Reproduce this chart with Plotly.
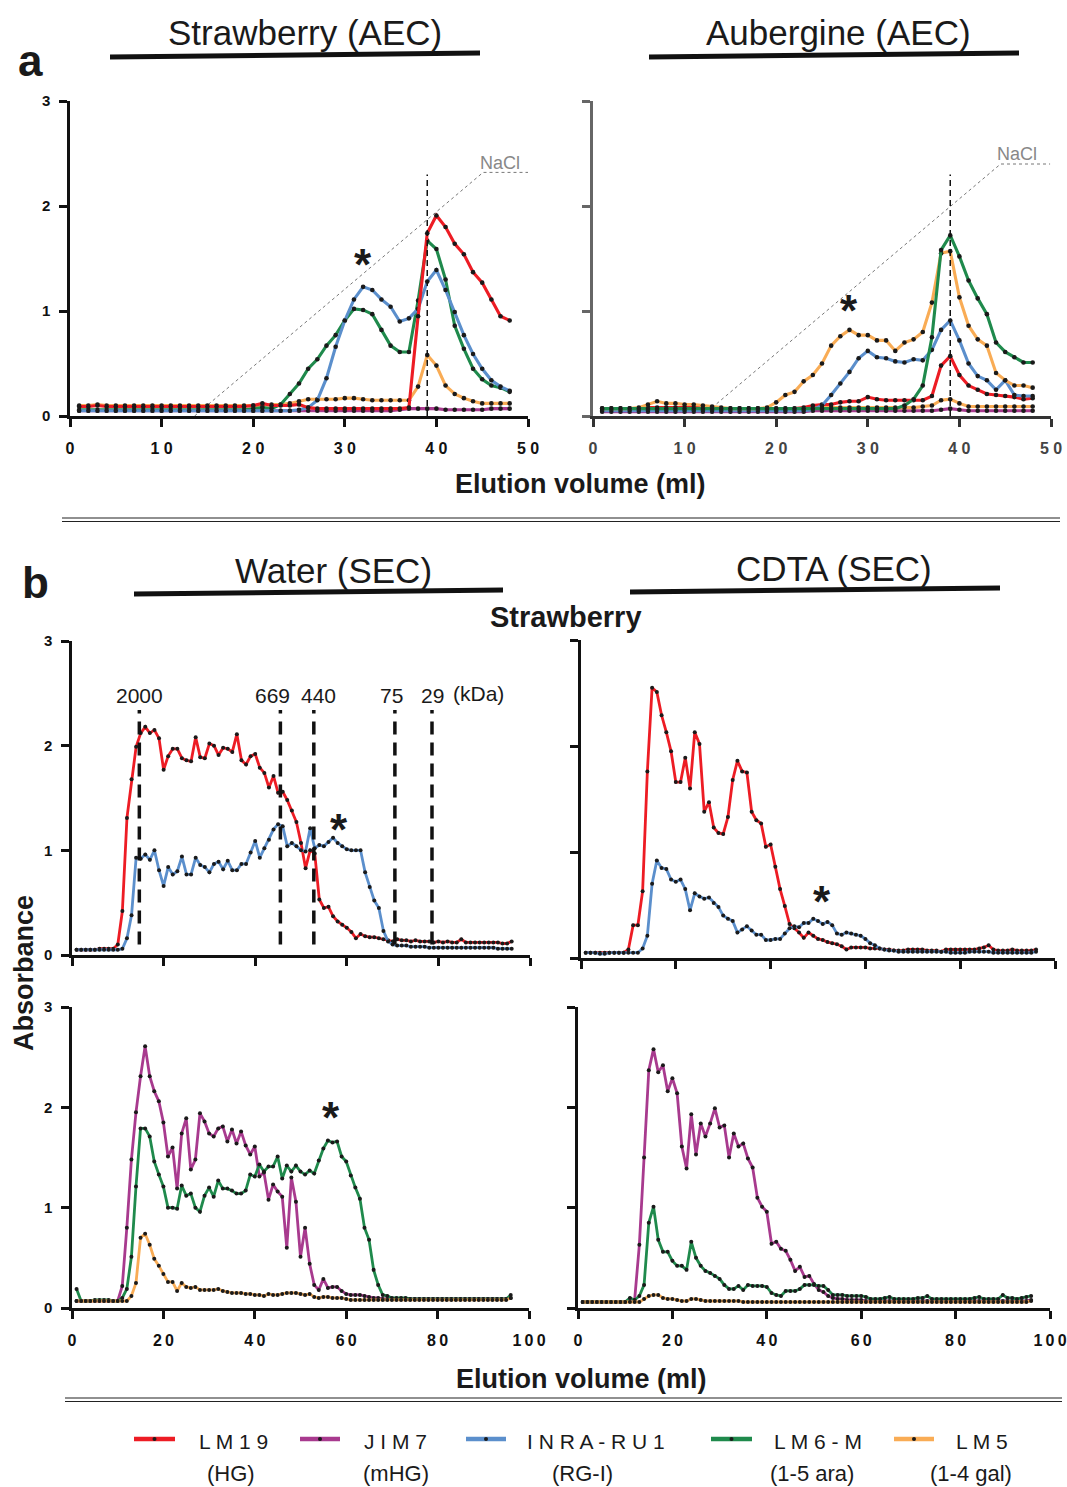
import plotly.graph_objects as go

# Full-window figure; the page's body margin is removed by a post script.
W, H = 1067, 1487
def px(x): return x / W
def py(y): return 1 - y / H

# ---------------- data: panel a (AEC, fractions 1..48) ----------------
a_x = list(range(1, 49))

sa_lm19 = [0.09,0.09,0.10,0.09,0.09,0.09,0.09,0.09,0.09,0.09,
           0.09,0.09,0.09,0.09,0.09,0.09,0.09,0.09,0.09,0.10,
           0.12,0.10,0.10,0.10,0.11,0.08,0.07,0.07,0.07,0.07,
           0.07,0.07,0.07,0.07,0.07,0.07,0.08,0.95,1.74,1.91,
           1.80,1.64,1.54,1.37,1.27,1.11,0.95,0.91]
sa_jim7 = [0.05,0.05,0.05,0.05,0.05,0.05,0.05,0.05,0.05,0.05,
           0.05,0.05,0.05,0.05,0.05,0.05,0.05,0.05,0.05,0.05,
           0.05,0.05,0.05,0.05,0.05,0.05,0.05,0.05,0.05,0.05,
           0.05,0.05,0.05,0.05,0.05,0.06,0.07,0.07,0.07,0.07,
           0.06,0.06,0.06,0.06,0.06,0.07,0.07,0.07]
sa_inra = [0.05,0.05,0.05,0.05,0.05,0.05,0.05,0.05,0.05,0.05,
           0.05,0.05,0.05,0.05,0.05,0.05,0.05,0.05,0.05,0.05,
           0.05,0.05,0.05,0.05,0.06,0.08,0.15,0.36,0.66,0.91,
           1.11,1.23,1.20,1.11,1.04,0.90,0.93,1.02,1.28,1.39,
           1.20,0.99,0.77,0.59,0.45,0.34,0.28,0.24]
sa_lm6 = [0.06,0.06,0.06,0.06,0.06,0.06,0.06,0.06,0.06,0.06,
          0.06,0.06,0.06,0.06,0.06,0.06,0.06,0.06,0.06,0.07,
          0.08,0.07,0.11,0.21,0.31,0.45,0.54,0.67,0.77,0.91,
          1.02,1.01,0.97,0.82,0.67,0.61,0.61,1.10,1.67,1.59,
          1.30,0.86,0.64,0.45,0.35,0.29,0.27,0.23]
sa_lm5 = [0.10,0.10,0.11,0.10,0.10,0.10,0.10,0.10,0.10,0.10,
          0.10,0.10,0.10,0.10,0.10,0.10,0.10,0.10,0.10,0.10,
          0.10,0.11,0.11,0.12,0.14,0.16,0.16,0.16,0.16,0.17,
          0.17,0.16,0.15,0.15,0.15,0.15,0.15,0.28,0.58,0.48,
          0.29,0.21,0.17,0.14,0.12,0.12,0.12,0.12]

au_lm19 = [0.07,0.07,0.07,0.07,0.07,0.08,0.08,0.08,0.08,0.08,
           0.08,0.08,0.07,0.07,0.07,0.07,0.07,0.07,0.07,0.07,
           0.07,0.07,0.08,0.10,0.11,0.11,0.13,0.14,0.14,0.18,
           0.16,0.15,0.15,0.15,0.15,0.15,0.19,0.48,0.57,0.39,
           0.29,0.25,0.21,0.20,0.19,0.18,0.16,0.17]
au_jim7 = [0.04,0.04,0.04,0.04,0.04,0.04,0.04,0.04,0.04,0.04,
           0.04,0.04,0.04,0.04,0.04,0.04,0.04,0.04,0.04,0.04,
           0.04,0.04,0.04,0.05,0.05,0.05,0.05,0.05,0.05,0.05,
           0.05,0.05,0.05,0.05,0.05,0.05,0.05,0.06,0.07,0.06,
           0.05,0.05,0.05,0.05,0.05,0.05,0.05,0.05]
au_inra = [0.05,0.05,0.05,0.05,0.05,0.05,0.05,0.05,0.05,0.05,
           0.05,0.05,0.05,0.05,0.05,0.05,0.05,0.05,0.05,0.05,
           0.05,0.05,0.05,0.06,0.10,0.20,0.31,0.42,0.55,0.62,
           0.56,0.55,0.52,0.51,0.54,0.53,0.63,0.82,0.91,0.72,
           0.50,0.38,0.34,0.25,0.34,0.20,0.19,0.19]
au_lm6 = [0.07,0.07,0.07,0.07,0.07,0.07,0.07,0.07,0.07,0.07,
          0.07,0.07,0.07,0.07,0.07,0.07,0.07,0.07,0.07,0.07,
          0.07,0.07,0.07,0.07,0.07,0.07,0.07,0.07,0.07,0.07,
          0.07,0.07,0.07,0.10,0.16,0.29,0.75,1.58,1.72,1.52,
          1.29,1.12,0.97,0.70,0.61,0.56,0.51,0.51]
au_lm5 = [0.07,0.07,0.07,0.07,0.08,0.11,0.14,0.12,0.12,0.11,
          0.11,0.10,0.09,0.08,0.07,0.07,0.07,0.07,0.08,0.13,
          0.20,0.23,0.33,0.39,0.50,0.67,0.76,0.82,0.77,0.77,
          0.72,0.72,0.62,0.70,0.73,0.80,1.08,1.55,1.57,1.13,
          0.86,0.73,0.67,0.41,0.34,0.29,0.29,0.27]
au_lm5_low = [0.07,0.07,0.07,0.07,0.07,0.07,0.07,0.07,0.07,0.07,
              0.07,0.07,0.07,0.07,0.07,0.07,0.07,0.07,0.07,0.07,
              0.07,0.07,0.07,0.08,0.08,0.08,0.08,0.08,0.08,0.08,
              0.08,0.08,0.08,0.08,0.08,0.09,0.10,0.15,0.16,0.12,
              0.09,0.09,0.09,0.09,0.09,0.09,0.09,0.09]

# NaCl gradient (elution volume, relative level)
nacl_l_x = [13.6, 45.1, 50.6]
nacl_l_y = [0.0, 2.32, 2.32]
nacl_r_x = [13.0, 44.5, 49.9]
nacl_r_y = [0.08, 2.40, 2.40]
aec_peak_x = 39
aec_peak_top = 2.30

# ---------------- data: panel b (SEC, fractions 1..96) ----------------
b_x = list(range(1, 97))

wr_lm19 = [0.05,0.05,0.05,0.05,0.05,0.06,0.06,0.06,0.06,0.10,
           0.42,1.31,1.68,1.99,2.12,2.18,2.12,2.15,2.07,1.77,
           1.90,1.97,1.97,1.88,1.86,1.85,2.08,1.89,1.88,2.02,
           2.00,1.91,1.98,1.97,1.94,2.11,1.86,1.82,1.90,1.92,
           1.79,1.74,1.60,1.71,1.55,1.56,1.48,1.38,1.27,1.07,
           0.83,1.00,0.97,0.53,0.45,0.46,0.37,0.32,0.29,0.26,
           0.22,0.16,0.20,0.18,0.17,0.17,0.16,0.15,0.14,0.13,
           0.15,0.14,0.14,0.13,0.14,0.13,0.13,0.13,0.12,0.13,
           0.12,0.13,0.12,0.12,0.15,0.12,0.12,0.12,0.12,0.12,
           0.12,0.12,0.12,0.11,0.11,0.13]
wr_inra = [0.05,0.05,0.05,0.05,0.05,0.05,0.05,0.05,0.05,0.05,
           0.06,0.16,0.38,0.93,0.92,0.96,0.91,1.00,0.81,0.66,
           0.84,0.77,0.80,0.94,0.77,0.77,0.93,0.86,0.84,0.79,
           0.87,0.89,0.82,0.90,0.81,0.81,0.87,0.87,0.98,1.09,
           0.93,1.02,1.10,1.20,1.25,1.23,1.04,1.07,1.04,1.00,
           0.99,1.21,1.02,1.05,1.04,1.08,1.12,1.07,1.04,1.01,
           1.00,1.00,1.00,0.79,0.65,0.52,0.45,0.23,0.13,0.10,
           0.09,0.09,0.09,0.08,0.08,0.08,0.08,0.07,0.07,0.07,
           0.07,0.07,0.07,0.07,0.07,0.07,0.07,0.07,0.07,0.07,
           0.07,0.07,0.06,0.06,0.06,0.06]
cr_lm19 = [0.05,0.05,0.05,0.05,0.05,0.05,0.05,0.05,0.05,0.08,
           0.31,0.31,0.63,1.76,2.55,2.51,2.29,2.13,1.95,1.66,
           1.66,1.89,1.60,2.13,2.02,1.38,1.47,1.23,1.18,1.17,
           1.33,1.68,1.86,1.76,1.75,1.38,1.30,1.27,1.05,1.07,
           0.86,0.65,0.49,0.32,0.28,0.24,0.19,0.24,0.21,0.18,
           0.17,0.15,0.14,0.13,0.11,0.08,0.10,0.10,0.10,0.10,
           0.09,0.09,0.09,0.08,0.08,0.07,0.07,0.07,0.08,0.08,
           0.08,0.08,0.07,0.07,0.07,0.06,0.08,0.08,0.08,0.08,
           0.08,0.08,0.08,0.09,0.10,0.12,0.08,0.07,0.07,0.07,
           0.08,0.07,0.07,0.07,0.07,0.08]
cr_inra = [0.05,0.05,0.05,0.04,0.04,0.05,0.05,0.05,0.05,0.05,
           0.05,0.05,0.09,0.21,0.70,0.92,0.85,0.84,0.74,0.72,
           0.74,0.65,0.45,0.61,0.58,0.56,0.57,0.52,0.48,0.40,
           0.37,0.35,0.24,0.27,0.30,0.26,0.22,0.22,0.17,0.17,
           0.18,0.18,0.23,0.28,0.30,0.29,0.33,0.33,0.37,0.35,
           0.32,0.34,0.31,0.23,0.22,0.24,0.23,0.22,0.21,0.18,
           0.14,0.12,0.09,0.08,0.07,0.07,0.06,0.06,0.06,0.06,
           0.06,0.06,0.06,0.06,0.06,0.06,0.06,0.05,0.05,0.05,
           0.05,0.06,0.06,0.06,0.06,0.06,0.05,0.05,0.05,0.05,
           0.05,0.05,0.05,0.05,0.05,0.06]
wb_jim7 = [0.07,0.07,0.07,0.07,0.07,0.07,0.07,0.07,0.07,0.07,
           0.22,0.80,1.48,1.95,2.31,2.61,2.31,2.16,2.06,1.85,
           1.51,1.60,1.19,1.74,1.89,1.38,1.48,1.94,1.86,1.74,
           1.71,1.79,1.81,1.66,1.78,1.64,1.76,1.62,1.53,1.61,
           1.31,1.35,1.08,1.23,1.16,1.11,0.60,1.30,1.06,0.51,
           0.80,0.44,0.23,0.18,0.29,0.20,0.21,0.21,0.17,0.14,
           0.13,0.13,0.13,0.12,0.11,0.10,0.10,0.09,0.09,0.09,
           0.09,0.09,0.09,0.09,0.09,0.09,0.09,0.09,0.09,0.09,
           0.09,0.09,0.09,0.09,0.09,0.09,0.09,0.09,0.09,0.09,
           0.09,0.09,0.09,0.09,0.09,0.10]
wb_lm6 = [0.19,0.07,0.07,0.07,0.08,0.08,0.08,0.08,0.07,0.07,
          0.10,0.19,0.51,1.21,1.79,1.79,1.71,1.46,1.33,1.21,
          1.00,1.00,0.99,1.22,1.12,1.14,1.00,0.96,1.12,1.20,
          1.11,1.27,1.19,1.19,1.17,1.14,1.14,1.17,1.33,1.31,
          1.43,1.36,1.41,1.41,1.51,1.29,1.42,1.36,1.42,1.36,
          1.33,1.37,1.34,1.47,1.59,1.67,1.65,1.66,1.51,1.46,
          1.32,1.20,1.09,0.80,0.68,0.38,0.23,0.13,0.12,0.10,
          0.10,0.10,0.10,0.09,0.09,0.09,0.09,0.09,0.09,0.09,
          0.09,0.09,0.09,0.09,0.09,0.09,0.09,0.09,0.09,0.09,
          0.09,0.09,0.09,0.09,0.09,0.13]
wb_lm5 = [0.07,0.07,0.07,0.07,0.07,0.07,0.07,0.07,0.07,0.07,
          0.07,0.07,0.12,0.25,0.70,0.74,0.63,0.49,0.42,0.34,
          0.26,0.26,0.17,0.25,0.21,0.20,0.21,0.18,0.18,0.18,
          0.18,0.19,0.17,0.16,0.15,0.15,0.15,0.14,0.14,0.13,
          0.13,0.12,0.14,0.13,0.13,0.14,0.15,0.15,0.15,0.14,
          0.13,0.14,0.11,0.10,0.11,0.11,0.10,0.10,0.10,0.09,
          0.08,0.08,0.08,0.08,0.08,0.08,0.08,0.08,0.08,0.08,
          0.08,0.08,0.08,0.08,0.08,0.08,0.08,0.08,0.08,0.08,
          0.08,0.08,0.08,0.08,0.08,0.08,0.08,0.08,0.08,0.08,
          0.08,0.08,0.08,0.08,0.08,0.10]
cb_jim7 = [0.06,0.06,0.06,0.06,0.06,0.06,0.06,0.06,0.06,0.06,
           0.09,0.08,0.63,1.50,2.37,2.58,2.35,2.42,2.16,2.29,
           2.14,1.61,1.39,1.93,1.53,1.84,1.71,1.84,1.99,1.80,
           1.82,1.50,1.74,1.61,1.64,1.49,1.40,1.10,1.01,0.96,
           0.64,0.66,0.59,0.57,0.48,0.37,0.41,0.31,0.32,0.24,
           0.18,0.16,0.12,0.10,0.09,0.09,0.08,0.08,0.08,0.08,
           0.07,0.07,0.07,0.07,0.07,0.07,0.07,0.07,0.07,0.07,
           0.07,0.07,0.07,0.07,0.07,0.07,0.07,0.07,0.07,0.07,
           0.07,0.07,0.07,0.07,0.07,0.07,0.07,0.07,0.07,0.07,
           0.07,0.07,0.07,0.07,0.07,0.08]
cb_lm6 = [0.06,0.06,0.06,0.06,0.06,0.06,0.06,0.06,0.06,0.06,
          0.10,0.08,0.12,0.23,0.85,1.01,0.68,0.56,0.56,0.47,
          0.42,0.42,0.38,0.66,0.50,0.42,0.37,0.35,0.32,0.29,
          0.23,0.19,0.19,0.22,0.18,0.23,0.22,0.22,0.22,0.21,
          0.15,0.13,0.12,0.17,0.17,0.17,0.19,0.23,0.23,0.23,
          0.22,0.22,0.18,0.13,0.13,0.13,0.12,0.12,0.12,0.12,
          0.11,0.09,0.09,0.09,0.10,0.11,0.09,0.09,0.09,0.09,
          0.09,0.10,0.10,0.12,0.09,0.09,0.09,0.09,0.09,0.09,
          0.09,0.09,0.09,0.10,0.11,0.09,0.09,0.09,0.09,0.13,
          0.10,0.10,0.09,0.10,0.11,0.12]
cb_lm5 = [0.06,0.06,0.06,0.06,0.06,0.06,0.06,0.06,0.06,0.06,
          0.06,0.06,0.06,0.09,0.12,0.13,0.13,0.10,0.09,0.09,
          0.08,0.07,0.07,0.09,0.09,0.08,0.07,0.07,0.07,0.07,
          0.07,0.07,0.07,0.07,0.06,0.06,0.06,0.06,0.06,0.06,
          0.06,0.06,0.06,0.06,0.06,0.06,0.06,0.06,0.06,0.06,
          0.06,0.06,0.06,0.06,0.06,0.06,0.06,0.06,0.06,0.06,
          0.06,0.06,0.06,0.06,0.06,0.06,0.06,0.06,0.06,0.06,
          0.06,0.06,0.06,0.06,0.06,0.06,0.06,0.06,0.06,0.06,
          0.06,0.06,0.06,0.06,0.06,0.06,0.06,0.06,0.06,0.06,
          0.06,0.06,0.06,0.06,0.06,0.07]

# molecular-weight markers (elution volume) for water SEC
mw_pos = [14.7, 45.5, 52.8, 70.5, 78.6]
mw_labels = ["2000", "669", "440", "75", "29"]
mw_label_shift = [0, -8, 5, -3, 1]
mw_bottom, mw_top = 0.10, 2.34

a_ticks = [0, 10, 20, 30, 40, 50]
a_ticktext = ["0", "1 0", "2 0", "3 0", "4 0", "5 0"]
b_ticks = [0, 20, 40, 60, 80, 100]
b_ticktext = ["0", "2\u20090", "4\u20090", "6\u20090", "8\u20090", "1\u20090\u20090"]
y_ticks = [0, 1, 2, 3]

legend_names = ["L M 1 9", "J I M 7", "I N R A - R U 1", "L M 6 - M", "L M 5"]
legend_subs = ["(HG)", "(mHG)", "(RG-I)", "(1-5 ara)", "(1-4 gal)"]

# ---------------- styling ----------------
COL = {"LM19": "#ED1C24", "JIM7": "#A83A8E", "INRA": "#5B8FCC",
       "LM6": "#1F8A4C", "LM5": "#F9AC55"}
DOT = "#1a1a1a"
FONT = "Arial, Liberation Sans, Helvetica, sans-serif"
AX = "#111111"

fig = go.Figure()

def series(x, y, color, ax, width=3.1, msize=4.6):
    fig.add_trace(go.Scatter(
        x=x, y=y, mode="lines+markers",
        line=dict(color=color, width=width),
        marker=dict(size=msize, color=DOT),
        xaxis="x" + ax, yaxis="y" + ax, showlegend=False, hoverinfo="skip"))

# panel a left
fig.add_trace(go.Scatter(x=nacl_l_x, y=nacl_l_y, mode="lines",
                         line=dict(color="#777", width=1, dash="dot"),
                         xaxis="x", yaxis="y", showlegend=False, hoverinfo="skip"))
for y, c in [(sa_jim7, "JIM7"), (sa_lm5, "LM5"), (sa_lm6, "LM6"), (sa_inra, "INRA"), (sa_lm19, "LM19")]:
    series(a_x, y, COL[c], "")
fig.add_trace(go.Scatter(x=[aec_peak_x, aec_peak_x], y=[0, aec_peak_top], mode="lines",
                         line=dict(color="#111", width=1.5, dash="6px,4px"),
                         xaxis="x", yaxis="y", showlegend=False, hoverinfo="skip"))

# panel a right
fig.add_trace(go.Scatter(x=nacl_r_x, y=nacl_r_y, mode="lines",
                         line=dict(color="#777", width=1, dash="dot"),
                         xaxis="x2", yaxis="y2", showlegend=False, hoverinfo="skip"))
for y, c in [(au_jim7, "JIM7"), (au_lm5_low, "LM5"), (au_lm19, "LM19"), (au_inra, "INRA"),
             (au_lm5, "LM5"), (au_lm6, "LM6")]:
    series(a_x, y, COL[c], "2")
fig.add_trace(go.Scatter(x=[aec_peak_x, aec_peak_x], y=[0, aec_peak_top], mode="lines",
                         line=dict(color="#111", width=1.5, dash="6px,4px"),
                         xaxis="x2", yaxis="y2", showlegend=False, hoverinfo="skip"))

# panel b top-left (water)
series(b_x, wr_lm19, COL["LM19"], "3", 2.8, 4.0)
series(b_x, wr_inra, COL["INRA"], "3", 2.8, 4.0)
mwx, mwy = [], []
for p in mw_pos:
    mwx += [p, p, None]
    mwy += [mw_bottom, mw_top, None]
fig.add_trace(go.Scatter(x=mwx, y=mwy, mode="lines",
                         line=dict(color="#111", width=3.5, dash="13px,8px"),
                         xaxis="x3", yaxis="y3", showlegend=False, hoverinfo="skip"))
# panel b top-right (CDTA)
series(b_x, cr_lm19, COL["LM19"], "4", 2.8, 4.0)
series(b_x, cr_inra, COL["INRA"], "4", 2.8, 4.0)
# panel b bottom-left
series(b_x, wb_jim7, COL["JIM7"], "5", 2.8, 4.0)
series(b_x, wb_lm6, COL["LM6"], "5", 2.8, 4.0)
series(b_x, wb_lm5, COL["LM5"], "5", 2.8, 4.0)
# panel b bottom-right
series(b_x, cb_jim7, COL["JIM7"], "6", 2.8, 4.0)
series(b_x, cb_lm6, COL["LM6"], "6", 2.8, 4.0)
series(b_x, cb_lm5, COL["LM5"], "6", 2.8, 4.0)

# ---------------- axes ----------------
def xax(d0, d1, anchor, rng, tv, tt, labels=True, color=AX, fcolor="#111"):
    return dict(domain=[px(d0), px(d1)], anchor=anchor, range=rng, tickvals=tv, ticktext=tt,
                showticklabels=labels, showgrid=False, zeroline=False, showline=True,
                linewidth=2.5, linecolor=color, ticks="outside", ticklen=8, tickwidth=2.5,
                tickcolor=color, ticklabelstandoff=8, automargin=False,
                tickfont=dict(family=FONT, size=16, color=fcolor, weight="bold"), fixedrange=True)

def yax(top, bottom, anchor, labels=True, color=AX):
    return dict(domain=[py(bottom), py(top)], anchor=anchor, range=[0, 3], tickvals=y_ticks,
                showticklabels=labels, showgrid=False, zeroline=False, showline=True,
                linewidth=2.5, linecolor=color, ticks="outside", ticklen=8, tickwidth=2.5,
                tickcolor=color, ticklabelstandoff=6, automargin=False,
                tickfont=dict(family=FONT, size=15, color="#111", weight="bold"), fixedrange=True)

layout = dict(
    xaxis=xax(70, 528, "y", [0, 50], a_ticks, a_ticktext),
    yaxis=yax(101, 416, "x"),
    xaxis2=xax(593, 1051, "y2", [0, 50], a_ticks, a_ticktext, color="#333", fcolor="#444"),
    yaxis2=yax(101, 416, "x2", labels=False, color="#666"),
    xaxis3=xax(72, 530, "y3", [0, 100], b_ticks, b_ticktext, labels=False),
    yaxis3=yax(641, 955, "x3"),
    xaxis4=xax(581, 1055, "y4", [0, 100], b_ticks, b_ticktext, labels=False),
    yaxis4=yax(640, 958, "x4", labels=False),
    xaxis5=xax(72, 529, "y5", [0, 100], b_ticks, b_ticktext),
    yaxis5=yax(1007, 1308, "x5"),
    xaxis6=xax(578, 1050, "y6", [0, 100], b_ticks, b_ticktext),
    yaxis6=yax(1007, 1308, "x6", labels=False),
)

# ---------------- annotations ----------------
ann = []
def txt(x, y, s, size, bold=False, color="#1a1a1a", angle=0, xanchor="center", yanchor="middle", family=FONT):
    ann.append(dict(x=px(x), y=py(y), xref="paper", yref="paper", text=s, showarrow=False,
                    xanchor=xanchor, yanchor=yanchor, textangle=angle,
                    font=dict(family=family, size=size, color=color, weight="bold" if bold else "normal")))

txt(30, 60, "a", 44, True)
txt(35, 582, "b", 44, True)
txt(305, 33, "Strawberry (AEC)", 35)
txt(838, 33, "Aubergine (AEC)", 35)
txt(333, 570, "Water (SEC)", 35)
txt(834, 568, "CDTA (SEC)", 35)
txt(566, 617, "Strawberry", 29, True)
txt(580, 484, "Elution volume (ml)", 27, True)
txt(581, 1379, "Elution volume (ml)", 27, True)
txt(24, 973, "Absorbance", 27, True, angle=-90)
txt(500, 163, "NaCl", 18, color="#888")
txt(1017, 154, "NaCl", 18, color="#888")
for sx, sy in [(363, 258), (849, 305), (339, 823), (822, 895), (331, 1111)]:
    txt(sx, sy + 6, "*", 44, True)
# MW labels in data coords of panel b top-left
for p, lab, sh in zip(mw_pos, mw_labels, mw_label_shift):
    ann.append(dict(x=p, y=2.48, xref="x3", yref="y3", text=lab, showarrow=False, xshift=sh,
                    font=dict(family=FONT, size=21, color="#1a1a1a")))
txt(478, 693, "(kDa)", 21)

# legend
leg_line = [(134, 175), (300, 340), (466, 506), (711, 752), (894, 934)]
leg_name_x = [233, 395, 596, 818, 982]
leg_sub_x = [231, 396, 582, 812, 971]
leg_cols = [COL["LM19"], COL["JIM7"], COL["INRA"], COL["LM6"], COL["LM5"]]
shapes = []
for (l0, l1), nx, sx, c, nm, sb in zip(leg_line, leg_name_x, leg_sub_x, leg_cols, legend_names, legend_subs):
    shapes.append(dict(type="line", xref="paper", yref="paper", x0=px(l0), x1=px(l1),
                       y0=py(1439), y1=py(1439), line=dict(color=c, width=4.5)))
    m = (l0 + l1) / 2
    shapes.append(dict(type="circle", xref="paper", yref="paper", x0=px(m - 2), x1=px(m + 2),
                       y0=py(1441), y1=py(1437), fillcolor=DOT, line=dict(width=0)))
    txt(nx, 1441, nm, 21)
    txt(sx, 1473, sb, 22)

# section title bars (slightly slanted)
for x0, y0, x1, y1 in [(110, 57, 480, 53), (649, 57, 1019, 53), (134, 594, 503, 590), (630, 592, 1000, 588)]:
    shapes.append(dict(type="line", xref="paper", yref="paper", x0=px(x0), y0=py(y0), x1=px(x1), y1=py(y1),
                       line=dict(color="#111", width=5)))
# double separator lines
for y, x0, x1 in [(518, 62, 1060), (521.5, 62, 1060), (1398, 65, 1062), (1401.5, 65, 1062)]:
    shapes.append(dict(type="line", xref="paper", yref="paper", x0=px(x0), x1=px(x1), y0=py(y), y1=py(y),
                       line=dict(color="#222", width=1.2)))

fig.update_layout(width=W, height=H, autosize=False,
                  margin=dict(l=0, r=0, t=0, b=0, pad=0, autoexpand=False),
                  paper_bgcolor="white", plot_bgcolor="white", showlegend=False,
                  annotations=ann, shapes=shapes, font=dict(family=FONT), **layout)

fig.write_html("out.html", config={"displayModeBar": False},
               post_script="document.body.style.margin='0';document.body.style.overflow='hidden';"
                           "document.documentElement.style.overflow='hidden';")
